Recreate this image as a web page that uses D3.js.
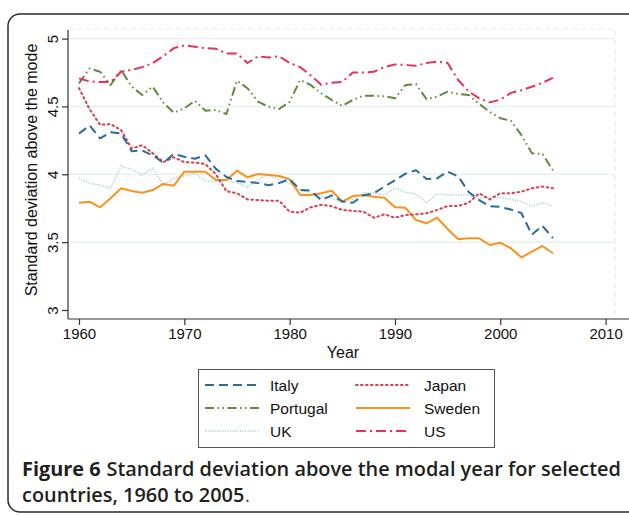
<!DOCTYPE html>
<html>
<head>
<meta charset="utf-8">
<script src="https://cdn.jsdelivr.net/npm/d3@7"></script>
<style>
  html, body { margin: 0; padding: 0; background: #fff; }
  svg { display: block; }
  text { font-family: "Liberation Sans", Arial, sans-serif; }
  text.caption { font-family: "Open Sans", "Noto Sans", sans-serif; }
</style>
</head>
<body>
<svg id="chart" width="629" height="516"></svg>
<script>
// Years 1960-2005
const years = d3.range(1960, 2006);

const italy = [4.30, 4.36, 4.265, 4.31, 4.30, 4.17, 4.175, 4.14, 4.085, 4.15,
  4.13, 4.115, 4.14, 4.04, 3.98, 3.95, 3.945, 3.935, 3.92, 3.935,
  3.965, 3.885, 3.88, 3.81, 3.845, 3.80, 3.79, 3.845, 3.86, 3.91,
  3.955, 4.005, 4.03, 3.965, 3.97, 4.02, 3.985, 3.87, 3.81, 3.765,
  3.76, 3.74, 3.715, 3.555, 3.62, 3.53];

const japan = [4.635, 4.48, 4.365, 4.37, 4.325, 4.19, 4.215, 4.155, 4.09, 4.125,
  4.09, 4.087, 4.075, 4.0, 3.875, 3.86, 3.815, 3.81, 3.805, 3.805,
  3.725, 3.717, 3.757, 3.775, 3.765, 3.737, 3.73, 3.725, 3.68, 3.705,
  3.68, 3.70, 3.705, 3.713, 3.737, 3.766, 3.766, 3.79, 3.86, 3.815,
  3.86, 3.86, 3.872, 3.897, 3.91, 3.897];

const portugal = [4.67, 4.78, 4.756, 4.658, 4.769, 4.646, 4.584, 4.646, 4.528, 4.454,
  4.486, 4.542, 4.469, 4.474, 4.444, 4.69, 4.634, 4.535, 4.498, 4.481,
  4.535, 4.695, 4.658, 4.597, 4.548, 4.503, 4.548, 4.579, 4.579, 4.575,
  4.56, 4.658, 4.665, 4.553, 4.572, 4.609, 4.592, 4.584, 4.518, 4.461,
  4.413, 4.395, 4.29, 4.155, 4.15, 4.03];

const sweden = [3.79, 3.798, 3.757, 3.823, 3.897, 3.877, 3.864, 3.884, 3.929, 3.916,
  4.019, 4.019, 4.019, 3.958, 3.958, 4.027, 3.978, 4.002, 3.995, 3.987,
  3.963, 3.847, 3.847, 3.86, 3.879, 3.798, 3.84, 3.847, 3.835, 3.828,
  3.757, 3.753, 3.663, 3.639, 3.68, 3.597, 3.521, 3.528, 3.528, 3.479,
  3.496, 3.455, 3.388, 3.43, 3.472, 3.418];

const uk = [3.97, 3.934, 3.921, 3.897, 4.061, 4.037, 3.995, 4.044, 3.921, 3.97,
  3.987, 4.007, 3.953, 3.946, 3.953, 3.94, 3.904, 3.958, 3.995, 3.958,
  3.934, 3.884, 3.86, 3.84, 3.823, 3.791, 3.816, 3.864, 3.864, 3.847,
  3.897, 3.868, 3.855, 3.791, 3.855, 3.847, 3.847, 3.847, 3.823, 3.835,
  3.83, 3.816, 3.798, 3.766, 3.791, 3.766];

const us = [4.707, 4.685, 4.68, 4.68, 4.756, 4.77, 4.79, 4.82, 4.87, 4.93,
  4.95, 4.94, 4.93, 4.925, 4.89, 4.89, 4.82, 4.87, 4.86, 4.87,
  4.82, 4.79, 4.73, 4.66, 4.675, 4.68, 4.75, 4.75, 4.756, 4.79,
  4.81, 4.805, 4.80, 4.82, 4.83, 4.82, 4.695, 4.61, 4.56, 4.53,
  4.55, 4.60, 4.62, 4.645, 4.675, 4.71];

const xTicks = [1960, 1970, 1980, 1990, 2000, 2010];
const yTicks = [3, 3.5, 4, 4.5, 5];
const gridValues = [3.5, 4, 4.5, 5];

const series = [
  { name: "Italy",    values: italy,    color: "#2b6c9c", dash: "9,5",               width: 2.0, col: 0, row: 0 },
  { name: "Japan",    values: japan,    color: "#d7404f", dash: "1.6,3.4",           width: 2.0, col: 1, row: 0, cap: "round" },
  { name: "Portugal", values: portugal, color: "#5f8c3c", dash: "9,3.5,1.5,3.5,1.5,3.5", width: 2.0, col: 0, row: 1 },
  { name: "Sweden",   values: sweden,   color: "#f7931e", dash: null,                width: 2.0, col: 1, row: 1 },
  { name: "UK",       values: uk,       color: "#afd2d3", dash: "1.2,1.3",           width: 1.5, col: 0, row: 2 },
  { name: "US",       values: us,       color: "#eb2f5b", dash: "10,4,2,4",          width: 2.0, col: 1, row: 2 }
];

const svg = d3.select("#chart");

// outer frame (runs off the right edge)
svg.append("rect")
  .attr("x", 8).attr("y", 14).attr("width", 660).attr("height", 498)
  .attr("rx", 12).attr("ry", 12)
  .attr("fill", "none").attr("stroke", "#2a2a2a").attr("stroke-width", 1.5);

const plot = { left: 68, right: 615, top: 29, bottom: 319 };

const x = d3.scaleLinear().domain([1960, 2010]).range([79, 605.6]);
const y = d3.scaleLinear().domain([3, 5]).range([310, 38.6]);

// plot region outline (faint)
svg.append("path")
  .attr("d", `M${plot.left},${plot.top}H${plot.right}V${plot.bottom}`)
  .attr("fill", "none").attr("stroke", "#e3edf0").attr("stroke-width", 1.2)
  .attr("stroke-dasharray", "5,4");

// horizontal grid
svg.append("g").selectAll("line").data(gridValues).join("line")
  .attr("x1", plot.left).attr("x2", plot.right)
  .attr("y1", d => y(d)).attr("y2", d => y(d))
  .attr("stroke", "#e6f0f3").attr("stroke-width", 1.5);

// y axis
const yAxis = svg.append("g")
  .attr("transform", `translate(${plot.left},0)`)
  .call(d3.axisLeft(y).tickValues(yTicks).tickSize(6).tickPadding(0).tickFormat(d3.format("")));
yAxis.select(".domain").attr("d", `M0,${plot.top + 1}V${plot.bottom}`).attr("stroke", "#333").attr("stroke-width", 1.2);
yAxis.selectAll(".tick line").attr("stroke", "#333").attr("stroke-width", 1.2);
yAxis.selectAll(".tick text")
  .attr("transform", "rotate(-90)")
  .attr("x", 0).attr("y", -10).attr("dy", 0)
  .attr("text-anchor", "middle")
  .attr("font-size", 15).attr("fill", "#111")
  .style("font-family", "'Liberation Sans', Arial, sans-serif");

// x axis
const xAxis = svg.append("g")
  .attr("transform", `translate(0,${plot.bottom})`)
  .call(d3.axisBottom(x).tickValues(xTicks).tickSize(6).tickPadding(3).tickFormat(d3.format("d")));
xAxis.select(".domain").attr("d", `M${plot.left},0H640`).attr("stroke", "#333").attr("stroke-width", 1.2);
xAxis.selectAll(".tick line").attr("stroke", "#333").attr("stroke-width", 1.2);
xAxis.selectAll(".tick text")
  .attr("font-size", 15).attr("fill", "#111")
  .style("font-family", "'Liberation Sans', Arial, sans-serif");

// axis titles
svg.append("text")
  .attr("x", 343).attr("y", 358)
  .attr("text-anchor", "middle").attr("font-size", 16).attr("fill", "#111")
  .text("Year");

svg.append("text")
  .attr("transform", "translate(37,170) rotate(-90)")
  .attr("text-anchor", "middle").attr("font-size", 16).attr("fill", "#111")
  .text("Standard deviation above the mode");

// series lines
const line = d3.line()
  .x((d, i) => x(years[i]))
  .y(d => y(d));

const drawOrder = ["UK", "Portugal", "US", "Sweden", "Japan", "Italy"];
drawOrder.forEach(n => {
  const s = series.find(t => t.name === n);
  svg.append("path")
    .datum(s.values)
    .attr("d", line)
    .attr("fill", "none")
    .attr("stroke", s.color)
    .attr("stroke-width", s.width)
    .attr("stroke-linejoin", "round")
    .attr("stroke-linecap", s.cap || "butt")
    .attr("stroke-dasharray", s.dash);
});

// legend
const lg = svg.append("g");
lg.append("rect")
  .attr("x", 198.5).attr("y", 369.5).attr("width", 296).attr("height", 78)
  .attr("fill", "#fff").attr("stroke", "#555").attr("stroke-width", 1);

const colX = [{ x1: 205, x2: 259, tx: 270 }, { x1: 356, x2: 410, tx: 424 }];
const rowY = [385, 408, 431];

series.forEach(s => {
  const c = colX[s.col], ry = rowY[s.row];
  lg.append("line")
    .attr("x1", c.x1).attr("x2", c.x2).attr("y1", ry).attr("y2", ry)
    .attr("stroke", s.color).attr("stroke-width", s.width)
    .attr("stroke-linecap", s.cap || "butt")
    .attr("stroke-dasharray", s.dash);
  lg.append("text")
    .attr("x", c.tx).attr("y", ry + 5.5)
    .attr("font-size", 15.5).attr("fill", "#111")
    .text(s.name);
});

// caption: each run is its own text element, laid out left to right
const cap = svg.append("g").attr("fill", "#231f20");
const captionLines = [
  { y: 476, runs: [
    { t: "Figure 6", w: 700 },
    { t: "Standard deviation above the modal year for selected", w: 600, gap: true }
  ]},
  { y: 502, runs: [
    { t: "countries, 1960 to 2005", w: 600 },
    { t: ".", w: 400, fill: "#555" }
  ]}
];

function layoutCaption(size) {
  cap.selectAll("*").remove();
  let firstWidth = 0;
  captionLines.forEach((ln, li) => {
    let cx = 22;
    ln.runs.forEach(r => {
      if (r.gap) cx += size * 0.27;
      const t = cap.append("text").attr("class", "caption")
        .attr("x", cx).attr("y", ln.y)
        .attr("font-size", size).attr("font-weight", r.w)
        .attr("fill", r.fill || "#231f20")
        .text(r.t);
      cx += t.node().getComputedTextLength() + 0.5;
    });
    if (li === 0) firstWidth = cx - 22;
  });
  return firstWidth;
}

const w16 = layoutCaption(16);
layoutCaption(16 * 600 / w16);
</script>
</body>
</html>
